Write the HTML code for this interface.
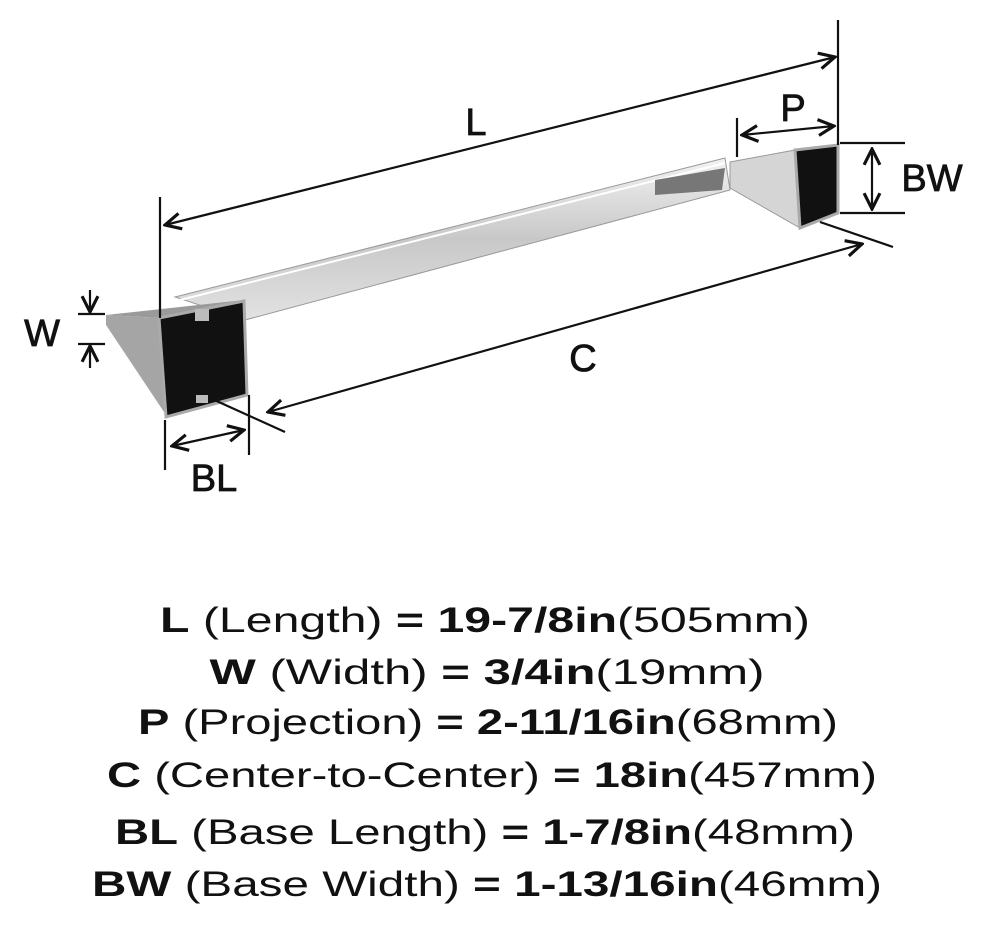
<!DOCTYPE html>
<html><head><meta charset="utf-8"><style>body{margin:0;background:#fff}svg{display:block}</style></head><body>
<svg width="990" height="926" viewBox="0 0 990 926" xmlns="http://www.w3.org/2000/svg">
<defs>
<marker id="a" viewBox="0 0 10 10" refX="9" refY="5" markerWidth="9" markerHeight="9" orient="auto-start-reverse"><path d="M1 1 L9 5 L1 9" fill="none" stroke="#111" stroke-width="1.6"/></marker>
<linearGradient id="bar" x1="0" y1="0" x2="0" y2="1"><stop offset="0" stop-color="#f2f2f2"/><stop offset="0.5" stop-color="#c8c8c8"/><stop offset="1" stop-color="#e2e2e2"/></linearGradient>
</defs>
<polygon points="175,297 725,158 730,190 245,320" fill="url(#bar)" stroke="#999" stroke-width="1"/>
<line x1="180" y1="300" x2="725" y2="163" stroke="#fff" stroke-width="2"/>
<polygon points="655,180 725,168 722,190 655,195" fill="#777"/>
<polygon points="106,315 244,300 160,318" fill="#9a9a9a"/>
<polygon points="106,315 160,318 166,415 106,325" fill="#a5a5a5"/>
<polygon points="159,318 244,301 247,395 166,417" fill="#111" stroke="#aaa" stroke-width="3"/>
<rect x="195" y="309" width="14" height="12" fill="#bbb"/>
<rect x="196" y="395" width="12" height="8" fill="#bbb"/>
<polygon points="730,162 795,150 800,228 730,188" fill="#d5d5d5" stroke="#999"/>
<polygon points="795,150 838,145 838,213 800,228" fill="#111" stroke="#aaa" stroke-width="3"/>
<g stroke="#111" stroke-width="2.2" fill="none">
<line x1="160" y1="197" x2="160" y2="318"/>
<line x1="838" y1="20" x2="838" y2="145"/>
<line x1="165" y1="225" x2="835" y2="57" marker-start="url(#a)" marker-end="url(#a)"/>
<line x1="737" y1="118" x2="737" y2="157"/>
<line x1="742" y1="135" x2="834" y2="126" marker-start="url(#a)" marker-end="url(#a)"/>
<line x1="840" y1="143" x2="905" y2="143"/>
<line x1="840" y1="213" x2="905" y2="213"/>
<line x1="872" y1="149" x2="872" y2="209" marker-start="url(#a)" marker-end="url(#a)"/>
<line x1="210" y1="398" x2="285" y2="432"/>
<line x1="820" y1="222" x2="893" y2="247"/>
<line x1="268" y1="412" x2="862" y2="244" marker-start="url(#a)" marker-end="url(#a)"/>
<line x1="78" y1="314" x2="105" y2="314"/>
<line x1="78" y1="344" x2="105" y2="344"/>
<line x1="90" y1="290" x2="90" y2="312" marker-end="url(#a)"/>
<line x1="90" y1="368" x2="90" y2="346" marker-end="url(#a)"/>
<line x1="165" y1="420" x2="165" y2="470"/>
<line x1="249" y1="395" x2="249" y2="455"/>
<line x1="172" y1="446" x2="244" y2="430" marker-start="url(#a)" marker-end="url(#a)"/>
</g>
<g font-family="Liberation Sans, sans-serif" font-size="38" fill="#111" text-anchor="middle" stroke="#111" stroke-width="0.8">
<text x="476" y="135">L</text>
<text x="793" y="121">P</text>
<text x="932" y="191">BW</text>
<text x="583" y="371">C</text>
<text x="42" y="346">W</text>
<text x="214" y="491">BL</text>
</g>
<g font-family="Liberation Sans, sans-serif" font-size="35" fill="#111" text-anchor="middle">
<text x="485" y="632" textLength="650" lengthAdjust="spacingAndGlyphs"><tspan font-weight="bold">L</tspan> (Length) <tspan font-weight="bold">= 19-7/8in</tspan>(505mm)</text>
<text x="487" y="684" textLength="555" lengthAdjust="spacingAndGlyphs"><tspan font-weight="bold">W</tspan> (Width) <tspan font-weight="bold">= 3/4in</tspan>(19mm)</text>
<text x="488" y="734" textLength="700" lengthAdjust="spacingAndGlyphs"><tspan font-weight="bold">P</tspan> (Projection) <tspan font-weight="bold">= 2-11/16in</tspan>(68mm)</text>
<text x="492" y="787" textLength="770" lengthAdjust="spacingAndGlyphs"><tspan font-weight="bold">C</tspan> (Center-to-Center) <tspan font-weight="bold">= 18in</tspan>(457mm)</text>
<text x="485" y="844" textLength="740" lengthAdjust="spacingAndGlyphs"><tspan font-weight="bold">BL</tspan> (Base Length) <tspan font-weight="bold">= 1-7/8in</tspan>(48mm)</text>
<text x="487" y="896" textLength="790" lengthAdjust="spacingAndGlyphs"><tspan font-weight="bold">BW</tspan> (Base Width) <tspan font-weight="bold">= 1-13/16in</tspan>(46mm)</text>
</g>
</svg>
</body></html>
